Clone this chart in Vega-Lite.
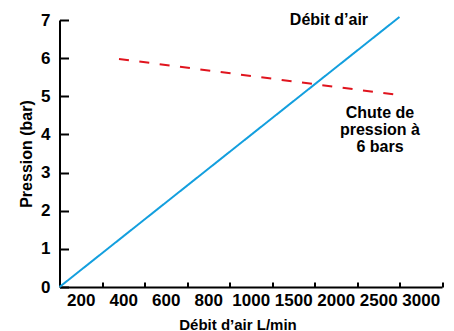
{
  "$schema": "https://vega.github.io/schema/vega-lite/v6.json",
  "autosize": "none",
  "width": 382.5,
  "height": 267,
  "padding": {"left": 59.5, "top": 20, "right": 12, "bottom": 44},
  "background": "white",
  "config": {
    "font": "Liberation Sans",
    "view": {"stroke": null},
    "axis": {
      "domainColor": "black",
      "domainWidth": 2,
      "tickColor": "black",
      "tickWidth": 2,
      "labelColor": "black",
      "labelFont": "Liberation Sans",
      "labelFontWeight": "bold",
      "labelFontSize": 17,
      "titleColor": "black",
      "titleFont": "Liberation Sans",
      "titleFontWeight": "bold",
      "grid": false
    }
  },
  "encoding": {
    "x": {
      "field": "debit",
      "type": "quantitative",
      "scale": {
        "domain": [100, 200, 400, 600, 800, 1000, 1500, 2000, 2500, 3000, 3250],
        "range": [0, 21.25, 63.75, 106.25, 148.75, 191.25, 233.75, 276.25, 318.75, 361.25, 382.5],
        "nice": false,
        "zero": false
      },
      "axis": {
        "title": "Débit d’air L/min",
        "titleFontSize": 15,
        "titleX": 178,
        "titlePadding": 9,
        "values": [200, 300, 400, 500, 600, 700, 800, 900, 1000, 1250, 1500, 1750, 2000, 2250, 2500, 2750, 3000, 3250],
        "format": "d",
        "labelExpr": "((datum.value < 1000 && datum.value % 200 == 0) || (datum.value >= 1000 && datum.value % 500 == 0)) ? datum.label : ''",
        "labelOverlap": false,
        "labelFlush": false,
        "labelPadding": 10,
        "tickSize": -5,
        "tickOpacity": {
          "condition": {"test": "(datum.value < 1000 && datum.value % 200 == 0) || (datum.value >= 1000 && datum.value % 500 == 0)", "value": 0},
          "value": 1
        }
      }
    },
    "y": {
      "field": "pression",
      "type": "quantitative",
      "scale": {"domain": [0, 7], "nice": false},
      "axis": {
        "title": "Pression (bar)",
        "titleFontSize": 16,
        "titlePadding": 6,
        "values": [0, 1, 2, 3, 4, 5, 6, 7],
        "tickSize": -9,
        "labelPadding": 18.5,
        "labelOverlap": false,
        "labelFlush": false
      }
    }
  },
  "layer": [
    {
      "data": {
        "values": [
          {"serie": "Débit d’air", "debit": 100, "pression": 0},
          {"serie": "Débit d’air", "debit": 2750, "pression": 7.08},
          {"serie": "Chute de pression à 6 bars", "debit": 380, "pression": 5.98},
          {"serie": "Chute de pression à 6 bars", "debit": 2750, "pression": 5.03}
        ]
      },
      "mark": {"type": "line", "strokeWidth": 2},
      "encoding": {
        "color": {
          "field": "serie",
          "type": "nominal",
          "scale": {"domain": ["Débit d’air", "Chute de pression à 6 bars"], "range": ["#139fde", "#e0141e"]},
          "legend": null
        },
        "strokeDash": {
          "field": "serie",
          "type": "nominal",
          "scale": {"domain": ["Débit d’air", "Chute de pression à 6 bars"], "range": [[1, 0], [10, 10.5]]},
          "legend": null
        }
      }
    },
    {
      "data": {
        "values": [
          {"texte": "Débit d’air", "debit": 1920, "pression": 7.0},
          {"texte": "Chute de\npression à\n6 bars", "debit": 2520, "pression": 4.56}
        ]
      },
      "mark": {"type": "text", "font": "Liberation Sans", "fontWeight": "bold", "fontSize": 16, "lineBreak": "\n", "lineHeight": 17, "align": "center", "baseline": "middle", "color": "black"},
      "encoding": {
        "text": {"field": "texte", "type": "nominal"}
      }
    }
  ]
}
